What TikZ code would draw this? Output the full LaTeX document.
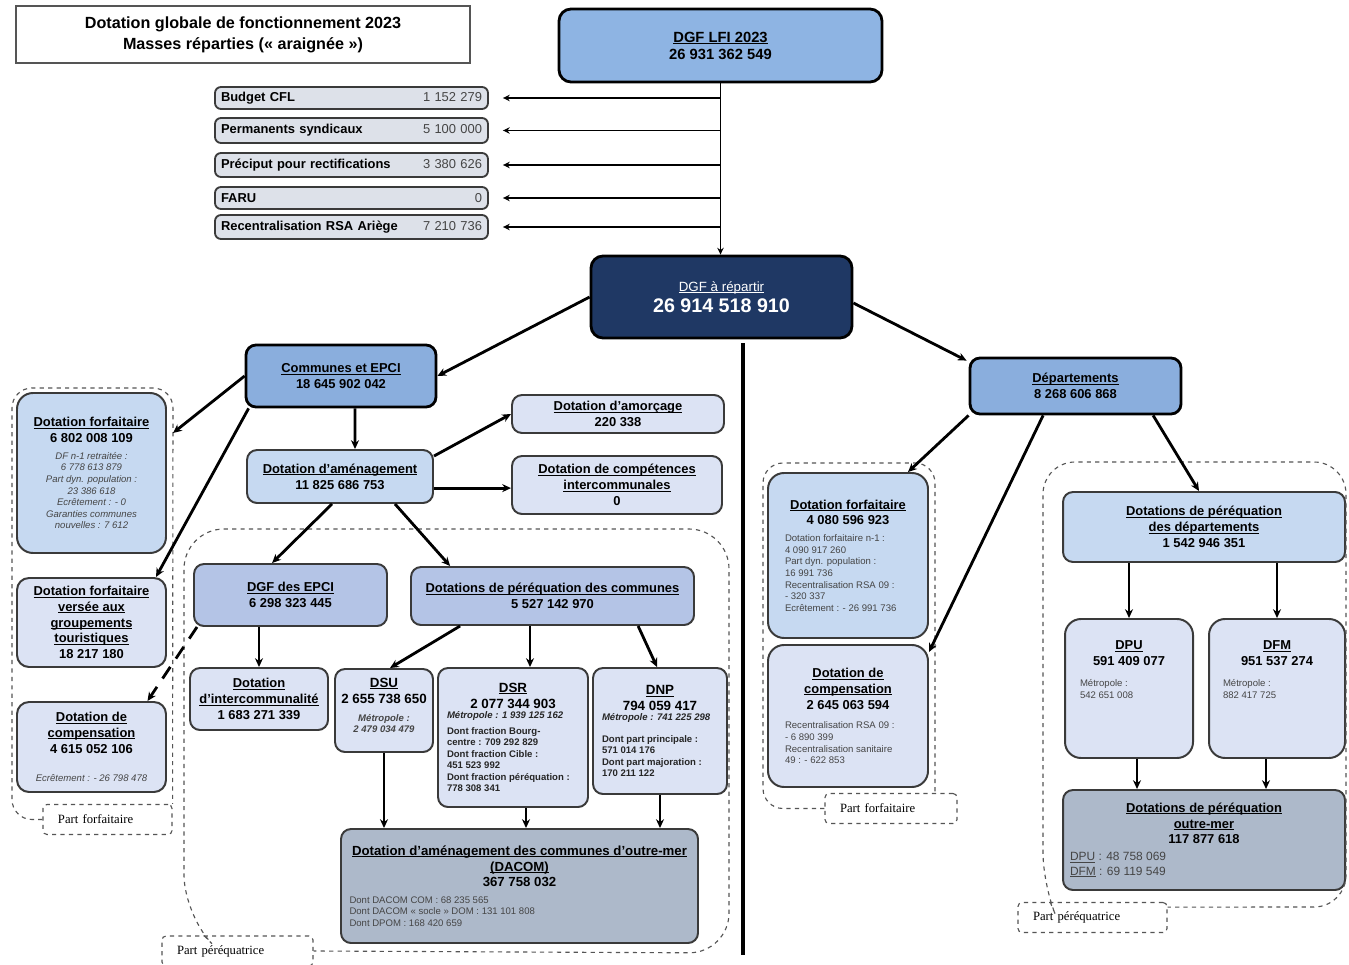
\documentclass[tikz,border=0pt]{standalone}
\usepackage{fontspec}
\setmainfont{Liberation Sans}
\newfontfamily\partserif{Liberation Serif}
\usetikzlibrary{arrows.meta, positioning, calc}
\definecolor{lfiblue}{HTML}{8EB4E3}
\definecolor{midblue}{HTML}{8AAEDD}
\definecolor{navy}{HTML}{1F3864}
\definecolor{ltblue}{HTML}{C6D9F1}
\definecolor{lavblue}{HTML}{B4C4E6}
\definecolor{paleblue}{HTML}{DCE3F4}
\definecolor{slate}{HTML}{ADB9CA}
\definecolor{sgray}{HTML}{DDE1E9}
\definecolor{boxline}{HTML}{3A3A3A}
\definecolor{grpgray}{HTML}{555555}
\definecolor{notegray}{HTML}{454545}

\newcommand{\bxfont}{\fontsize{9.2}{11.2}\selectfont\bfseries}
\newcommand{\valfont}{\fontsize{9.5}{11.5}\selectfont\bfseries}
\newcommand{\ttl}[1]{\leavevmode\setbox0\hbox{#1}\rlap{\rule[-1.3pt]{\wd0}{0.6pt}}\box0\relax}
\newcommand{\val}[1]{{\mdseries\color{notegray}#1}}
\newcommand{\notesz}{\fontsize{6.8}{8.2}\selectfont\mdseries\color{notegray}}
\newcommand{\dsrfont}{\fontsize{6.8}{8.2}\selectfont\bfseries\color{black!85}}
\newcommand{\notec}[2]{\parbox{#1}{\centering\notesz #2}}
\newcommand{\notel}[2]{\parbox{#1}{\raggedright\notesz #2}}

\begin{document}
\begin{tikzpicture}[
  x=0.25mm, y=-0.25mm,
  >={Stealth[length=2.2mm, width=2mm]},
  wh/.style 2 args={minimum width=#1*0.25mm, minimum height=#2*0.25mm},
  topbox/.style={
    draw=black, line width=2pt, fill=#1, rounded corners=2.5mm,
    align=center, font=\bxfont, inner sep=2pt
  },
  box/.style={
    draw=boxline, line width=1.4pt, fill=#1, rounded corners=2.5mm,
    align=center, font=\bxfont, inner sep=2pt
  },
  sbox/.style={
    draw=boxline, line width=1.3pt, fill=sgray, rounded corners=1.5mm,
    font=\bxfont, text width=65.25mm, inner xsep=1.5mm, inner ysep=0pt,
    minimum height=#1*0.25mm
  },
  arr/.style={->, line width=2pt},
  thinarr/.style={->, line width=1.4pt, >={Stealth[length=1.7mm, width=1.6mm]}},
  darr/.style={->, line width=2pt, dash pattern=on 3.5mm off 2.5mm},
  grp/.style={draw=grpgray, line width=0.8pt, dashed, rounded corners=#1},
  part/.style={
    draw=grpgray, line width=0.8pt, dashed, rounded corners=1mm,
    font=\partserif\fontsize{9}{10}\selectfont, align=left,
    inner xsep=3.75mm, minimum height=7.5mm
  },
]

% Background
\fill[white] (0,0) rectangle (1349,965);
\useasboundingbox (0,0) rectangle (1349,965);

% =============================================
% Title
% =============================================
\node[draw=grpgray, line width=0.9pt, wh={454}{57}, align=center,
      font=\fontsize{11.5}{15}\selectfont\bfseries]
  (title) at (243,34.5)
  {Dotation globale de fonctionnement 2023\\
   Masses réparties («~araignée~»)};

% =============================================
% DGF LFI and deductions
% =============================================
\node[topbox=lfiblue, wh={323}{73}, rounded corners=3mm,
      font=\fontsize{10.5}{12}\selectfont\bfseries]
  (lfi) at (720.5,45.5)
  {\ttl{DGF LFI 2023}\\26 931 362 549};

\node[sbox=22] (cfl) at (351.5,98) {\noindent Budget CFL\hfill\val{1 152 279}};
\node[sbox=25] (synd) at (351.5,130.5) {\noindent Permanents syndicaux\hfill\val{5 100 000}};
\node[sbox=24] (preciput) at (351.5,165) {\noindent Préciput pour rectifications\hfill\val{3 380 626}};
\node[sbox=22] (faru) at (351.5,198) {\noindent FARU\hfill\val{0}};
\node[sbox=24] (rsa) at (351.5,227) {\noindent Recentralisation RSA Ariège\hfill\val{7 210 736}};

% =============================================
% DGF to distribute
% =============================================
\node[topbox=navy, wh={261}{82}, rounded corners=3mm, text=white]
  (repartir) at (721.5,297)
  {{\fontsize{9.5}{11}\selectfont\mdseries\ttl{DGF à répartir}}\\[2pt]
   {\fontsize{14}{16}\selectfont 26 914 518 910}};

\draw[thinarr] (lfi.south) -- (lfi.south |- repartir.north);
\foreach \n in {cfl, synd, preciput, faru, rsa}
  \draw[thinarr] (\n.east -| lfi.south) -- ([xshift=3.5mm]\n.east);

% =============================================
% Communes et EPCI
% =============================================
\node[topbox=midblue, wh={190}{62}] (communes) at (341,376)
  {\ttl{Communes et EPCI}\\18 645 902 042};

% Part forfaitaire (left)
\node[box=ltblue, wh={149}{160}, rounded corners=4mm] (dfc) at (91.5,473)
  {\ttl{Dotation forfaitaire}\\6 802 008 109\\[6pt]
   \notec{31mm}{\itshape DF n-1 retraitée :\\6 778 613 879\\Part dyn. population :\\
   23 386 618\\Ecrêtement : - 0\\Garanties communes\\nouvelles : 7 612}};

\node[box=paleblue, wh={149}{89}, rounded corners=3mm] (dfgt) at (91.5,622.5)
  {\ttl{Dotation forfaitaire}\\\ttl{versée aux}\\\ttl{groupements}\\
   \ttl{touristiques}\\18 217 180};

\node[box=paleblue, wh={149}{90}, rounded corners=3mm] (dcc) at (91.5,747)
  {\ttl{Dotation de}\\\ttl{compensation}\\4 615 052 106\\[9pt]
   \notec{34mm}{\itshape Ecrêtement : - 26 798 478}};

% Dotation d'aménagement and its shares
\node[box=ltblue, wh={186}{53}] (amenag) at (340,476.5)
  {\ttl{Dotation d'aménagement}\\11 825 686 753};

\node[box=paleblue, wh={212}{38}] (amorcage) at (618,414)
  {\ttl{Dotation d'amorçage}\\220 338};

\node[box=paleblue, wh={210}{58}] (competences) at (617,485)
  {\ttl{Dotation de compétences}\\\ttl{intercommunales}\\0};

\node[box=lavblue, wh={193}{62}] (dgfepci) at (290.5,595)
  {\ttl{DGF des EPCI}\\6 298 323 445};

\node[box=lavblue, wh={283}{58}] (perecom) at (552.5,596)
  {\ttl{Dotations de péréquation des communes}\\5 527 142 970};

\node[box=paleblue, wh={138}{62}] (interco) at (259,699)
  {\ttl{Dotation}\\\ttl{d'intercommunalité}\\1 683 271 339};

\node[box=paleblue, wh={98}{83}, font=\valfont, text depth=4mm] (dsu) at (384,710.5)
  {\ttl{DSU}\\2 655 738 650\\[5pt]
   \notec{22mm}{\bfseries\itshape Métropole :\\2 479 034 479}};

\node[box=paleblue, wh={150}{139}, font=\valfont] (dsr) at (513,737.5)
  {\ttl{DSR}\\2 077 344 903\\[1pt]
   \notel{33mm}{\dsrfont{\itshape Métropole : 1 939 125 162}\\[3pt]
   Dont fraction Bourg-\\centre : 709 292 829\\Dont fraction Cible :\\451 523 992\\
   Dont fraction péréquation :\\778 308 341}};

\node[box=paleblue, wh={134}{126}, font=\valfont] (dnp) at (660,731)
  {\ttl{DNP}\\794 059 417\\[1pt]
   \notel{29mm}{\dsrfont{\itshape Métropole : 741 225 298}\\[7pt]
   Dont part principale :\\571 014 176\\Dont part majoration :\\170 211 122}};

\node[box=slate, wh={357}{114}, font=\fontsize{9.4}{11.2}\selectfont\bfseries]
  (dacom) at (519.5,886)
  {\ttl{Dotation d'aménagement des communes d'outre-mer}\\\ttl{(DACOM)}\\
   367 758 032\\[6pt]
   \notel{85mm}{\fontsize{6.8}{8}\selectfont Dont DACOM COM : 68 235 565\\
   Dont DACOM «~socle~» DOM : 131 101 808\\Dont DPOM : 168 420 659}};

% Groups
\node[part, text width=24.75mm] (pfc) at (107.5,819.5) {Part forfaitaire};
\node[part, text width=30.25mm] (ppc) at (237.5,951) {Part péréquatrice};
\draw[grp=5mm] (pfc.west) -- (12,819.5) -- (12,388) -- (173,388) -- (pfc.north east);
\draw[grp=10mm] ([xshift=-8.4mm]ppc.north) -- (184,915) -- (184,529)
  -- (729,529) -- (729,953) -- (ppc.east);

% =============================================
% Départements
% =============================================
\node[topbox=midblue, wh={211}{56}] (depts) at (1075.5,386)
  {\ttl{Départements}\\8 268 606 868};

\node[box=ltblue, wh={160}{165}, rounded corners=4mm] (dfd) at (848,555.5)
  {\ttl{Dotation forfaitaire}\\4 080 596 923\\[6pt]
   \notel{31.5mm}{Dotation forfaitaire n-1 :\\4 090 917 260\\Part dyn. population :\\
   16 991 736\\Recentralisation RSA 09 :\\- 320 337\\Ecrêtement : - 26 991 736}};

\node[box=paleblue, wh={160}{142}, rounded corners=4mm] (dcd) at (848,716)
  {\ttl{Dotation de}\\\ttl{compensation}\\2 645 063 594\\[8pt]
   \notel{31.5mm}{Recentralisation RSA 09 :\\- 6 890 399\\Recentralisation sanitaire\\
   49 : - 622 853}};

\node[box=ltblue, wh={282}{70}] (peredep) at (1204,527)
  {\ttl{Dotations de péréquation}\\\ttl{des départements}\\1 542 946 351};

\node[box=paleblue, wh={128}{139}, rounded corners=4mm, text depth=11mm]
  (dpu) at (1129,688.5)
  {\ttl{DPU}\\591 409 077\\[8pt]\notel{24.5mm}{Métropole :\\542 651 008}};

\node[box=paleblue, wh={136}{139}, rounded corners=4mm, text depth=11mm]
  (dfm) at (1277,688.5)
  {\ttl{DFM}\\951 537 274\\[8pt]\notel{27mm}{Métropole :\\882 417 725}};

\node[box=slate, wh={282}{100}] (om) at (1204,840)
  {\ttl{Dotations de péréquation}\\\ttl{outre-mer}\\117 877 618\\[5pt]
   \notel{67mm}{\fontsize{8.5}{10.5}\selectfont\ttl{DPU} : 48 758 069\\\ttl{DFM} : 69 119 549}};

% Groups
\node[part, text width=25.5mm] (pfd) at (891,808.5) {Part forfaitaire};
\node[part, text width=29.75mm] (ppd) at (1092.5,917.5) {Part péréquatrice};
\draw[grp=5mm] (pfd.west) -- (763,808.5) -- (763,463) -- (935,463) -- (935,794);
\draw[grp=8mm] ([xshift=-10.6mm]ppd.north) -- (1043,885) -- (1043,462)
  -- (1346,462) -- (1346,907) -- ([yshift=2.6mm]ppd.east);

% =============================================
% Divider
% =============================================
\coordinate (divtop) at (743,343);
\coordinate (divbot) at (743,955);
\draw[line width=2.3pt] (divtop) -- (divbot);

% =============================================
% Arrows
% =============================================
\draw[arr] (repartir.west) -- (communes.east);
\draw[arr] ([yshift=-1.5mm]repartir.east) -- ([xshift=-0.5mm,yshift=-1mm]depts.north west);

% Communes et EPCI
\draw[arr] (communes.west) -- ([xshift=1.5mm,yshift=10mm]dfc.east);
\draw[arr] ([xshift=1mm]communes.south west) -- ([xshift=-2.75mm]dfgt.north east);
\draw[arr] ([xshift=3.5mm]communes.south) -- ([xshift=3.75mm]amenag.north);
\draw[arr] ([yshift=-1.75mm]amenag.north east) -- (amorcage.west);
\draw[arr] ([yshift=-2.9mm]amenag.east) -- ([yshift=-2.9mm]amenag.east -| competences.west);
\draw[arr] ([xshift=-2mm]amenag.south) -- ([xshift=-4.6mm]dgfepci.north);
\draw[arr] ([xshift=13.75mm]amenag.south) -- ([xshift=-25.6mm]perecom.north);
\draw[arr] (interco.north |- dgfepci.south) -- (interco.north);
\draw[darr] ([xshift=1mm]dgfepci.south west) -- ([xshift=14mm]dcc.north);
\draw[arr] ([xshift=-23.1mm]perecom.south) -- ([xshift=1.5mm]dsu.north);
\draw[arr] ([xshift=4.25mm]perecom.south -| dsr.north) -- ([xshift=4.25mm]dsr.north);
\draw[arr] ([xshift=21.4mm]perecom.south) -- ([xshift=-0.75mm]dnp.north);
\draw[arr] (dsu.south) -- (dsu.south |- dacom.north);
\draw[arr] ([xshift=3.25mm]dsr.south) -- ([xshift=3.25mm]dsr.south |- dacom.north);
\draw[arr] (dnp.south) -- (dnp.south |- dacom.north);

% Départements
\draw[arr] (depts.south west) -- ([xshift=15mm]dfd.north);
\draw[arr] ([xshift=-8.1mm]depts.south) -- ([yshift=-2mm]dcd.north east);
\draw[arr] ([xshift=19.4mm]depts.south) -- ([xshift=-1.25mm]peredep.north);
\draw[arr] (dpu.north |- peredep.south) -- (dpu.north);
\draw[arr] (dfm.north |- peredep.south) -- (dfm.north);
\draw[arr] ([xshift=2mm]dpu.south) -- ([xshift=2mm]dpu.south |- om.north);
\draw[arr] ([xshift=-2.75mm]dfm.south) -- ([xshift=-2.75mm]dfm.south |- om.north);

\end{tikzpicture}
\end{document}
